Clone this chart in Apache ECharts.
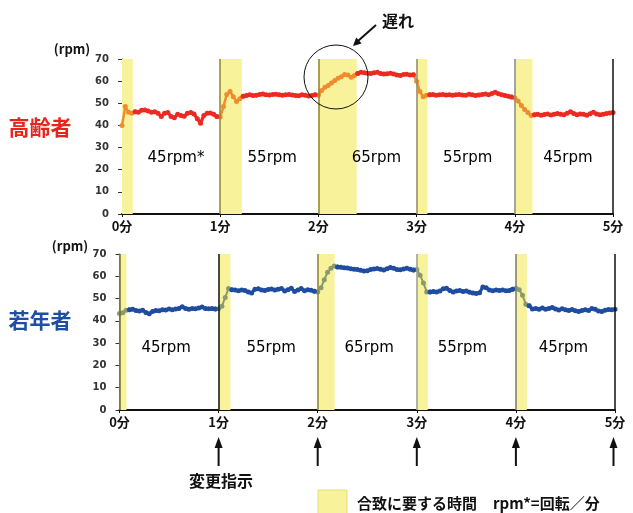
<!DOCTYPE html>
<html>
<head>
<meta charset="utf-8">
<script src="https://cdn.jsdelivr.net/npm/echarts@6/dist/echarts.min.js"></script>
<style>
  html, body { margin: 0; padding: 0; background: #ffffff; }
  #chart { width: 633px; height: 513px; }
</style>
</head>
<body>
<div id="chart"></div>
<script>
// Pedalling cadence (rpm) over a 5-minute trial, sampled every 2 seconds.
const minuteTicks = [0, 1, 2, 3, 4, 5];
const sampleStepMin = 1 / 30;

// Elderly subjects (高齢者)
const elderlyRpm = [
  40, 48.5, 46, 45.5,
  46.2, 46, 46.8, 47, 46.5, 46, 46.2, 45.5, 44, 45.5, 45.8, 44, 43.5, 45, 44.5, 44.2, 45.5, 45.8, 45.2, 43, 41, 44.5, 45.5, 45.6, 45, 44,
  43.8, 48.5, 54, 55.3, 53, 50.8, 52,
  53.2, 53.5, 53.8, 53.5, 53.6, 54, 54.2, 53.8, 53.7, 54, 54.1, 53.9, 53.6, 53.8, 54, 53.7, 53.5, 53.4, 53.9, 53.6, 53.3, 53.5, 53.8,
  53.6, 55.8, 57.2, 58, 59.2, 60.3, 61.3, 62, 63, 62.8, 61.8, 62.5,
  63.5, 64, 63.8, 63.6, 63.4, 63.8, 64, 63.5, 63.2, 63.3, 63.6, 63.2, 62.8, 62.6, 63, 63.1, 62.8, 62.9,
  60, 55.3, 53, 53.6,
  53.8, 54, 53.6, 53.8, 54, 53.7, 53.9, 53.6, 53.8, 54, 53.7, 53.6, 54.1, 53.8, 53.5, 53.7, 54, 54.2, 53.8, 54.4, 55, 54.3, 53.9, 53.5, 53.2, 52.8,
  52.4, 51, 49, 47.2, 45.8, 44.5,
  44.8, 45, 44.6, 44.9, 45.2, 44.7, 45, 45.4, 45, 44.8, 45.5, 46.2, 45.4, 44.8, 45.2, 45, 44.6, 45.3, 46, 45.2, 44.8, 45, 45.4, 45.6, 45.8
];

// Young subjects (若年者)
const youngRpm = [
  43.3, 43.6, 44.8,
  45, 45.2, 44.6, 44.4, 44.8, 43.8, 43.2, 44.2, 44.6, 44.5, 45, 44.9, 45.3, 45, 45.3, 45.6, 46.3, 45.6, 45.2, 45.5, 45.4, 45.8, 46.2, 45.6, 45.4, 45.5, 45.3,
  45.4, 46.5, 50.5, 54.5,
  54, 53.8, 53.5, 53.9, 53.6, 53, 52.5, 54.2, 54.4, 53.9, 53.6, 54.1, 54.3, 53.8, 54.2, 54.5, 53.4, 54, 54.6, 53.2, 53.8, 54.5, 53.5, 54, 53.7, 53.3,
  53, 54.8, 58.5, 61.8, 63.6, 64.6,
  64.2, 64, 63.8, 63.7, 63.4, 63.2, 63, 62.7, 62.4, 62.5, 63, 63.3, 63.5, 63.2, 62.8, 63.4, 63.9, 63.6, 63, 62.9, 63.3, 63.6, 63.2, 62.8,
  63, 60.5, 57, 53,
  53, 53.2, 53, 53.4, 54.4, 54.6, 53.6, 53, 53.4, 53.6, 53.2, 53.4, 52.8, 52.5, 52.3, 52.6, 55.2, 54.8, 53.8, 53.5, 53.9, 53.6, 53.8, 53.5, 53.6, 54.2,
  54.6, 54, 51.5, 47.5,
  46.8, 45.3, 45.6, 45.2, 45.8, 45.2, 45.6, 46, 45.3, 44.9, 45.4, 45, 44.6, 45.1, 44.5, 44.2, 44.6, 45, 44.7, 45.5, 45.2, 44.4, 44.2, 44.8, 45.1, 45, 45.2
];

// Time (min) needed to settle on each new target cadence
const elderlyBands = [[0, 0.11], [1, 1.22], [2, 2.39], [3, 3.11], [4, 4.18]];
const youngBands   = [[0, 0.07], [1, 1.12], [2, 2.17], [3, 3.11], [4, 4.11]];

// Target cadence of each minute
const elderlyTargets = ['45rpm*', '55rpm', '65rpm', '55rpm', '45rpm'];
const youngTargets   = ['45rpm', '55rpm', '65rpm', '55rpm', '45rpm'];

// ---- layout ----
const panels = [
  { left: 122, right: 20, top: 59, height: 155,
    bands: elderlyBands, values: elderlyRpm, targets: elderlyTargets,
    lineColor: '#ec2a21', transColor: '#f08c2e',
    labelAt: [[0.55, 25.3], [1.53, 25.3], [2.59, 25.3], [3.52, 25.3], [4.54, 25.3]],
    edges: [[1, '#8a8332'], [2, '#8a8332'], [3, '#8e8b6c'], [4, '#8a8a8a'], [5, '#111111']] },
  { left: 119.5, right: 18, top: 254, height: 156,
    bands: youngBands, values: youngRpm, targets: youngTargets,
    lineColor: '#1e4ca0', transColor: '#8a9a70',
    labelAt: [[0.47, 27.8], [1.53, 27.8], [2.52, 27.8], [3.46, 27.8], [4.48, 27.8]],
    edges: [[0, '#6f6a2c'], [1, '#111111'], [2, '#8a8332'], [3, '#9a9a9a'], [4, '#777777'], [5, '#111111']] }
];

const CJK = '"Noto Sans CJK JP", sans-serif';

function splitSeries(values, bands) {
  const pts = values.map((v, i) => [i * sampleStepMin, v]);
  const inBand = t => bands.some(([a, b]) => t >= a - 1e-9 && t <= b + 1e-9);
  const steady = pts.map(p => inBand(p[0]) ? [p[0], '-'] : p);
  const trans = pts.map((p, i) => {
    const near = inBand(p[0]) ||
      (i > 0 && inBand(pts[i - 1][0])) ||
      (i < pts.length - 1 && inBand(pts[i + 1][0]));
    return near ? p : [p[0], '-'];
  });
  return { steady, trans };
}

const grid = [], xAxis = [], yAxis = [], series = [];
panels.forEach((p, k) => {
  grid.push({ left: p.left, right: p.right, top: p.top, height: p.height });
  xAxis.push({
    type: 'value', gridIndex: k, min: 0, max: 5, interval: 1,
    axisLine: { show: true, lineStyle: { color: '#111', width: 2 } },
    axisTick: { show: true, length: 3, lineStyle: { color: '#111' } },
    axisLabel: { formatter: '{value}分', fontFamily: CJK, fontWeight: 'bold',
                 fontSize: 13, color: '#111', margin: 6 },
    splitLine: { show: false }
  });
  yAxis.push({
    type: 'value', gridIndex: k, min: 0, max: 70, interval: 10,
    axisLine: { show: true, lineStyle: { color: '#444', width: 1 } },
    axisTick: { show: true, length: 4, lineStyle: { color: '#333' } },
    axisLabel: { fontFamily: 'DejaVu Sans', fontWeight: 'bold', fontSize: 10,
                 color: '#333', margin: 13 },
    splitLine: { show: false }
  });

  // settling-time bands and the minute marker lines
  series.push({
    type: 'line', xAxisIndex: k, yAxisIndex: k, data: [], z: 1, silent: true,
    markArea: {
      silent: true,
      itemStyle: { color: '#f8f39b' },
      data: p.bands.map(b => [{ xAxis: b[0] }, { xAxis: b[1] }])
    },
    markLine: {
      silent: true, symbol: ['none', 'none'], label: { show: false },
      data: p.edges.map(([x, c]) => ({ xAxis: x, lineStyle: { color: c, width: 1.5, type: 'solid' } }))
    }
  });

  const parts = splitSeries(p.values, p.bands);
  series.push({
    type: 'line', xAxisIndex: k, yAxisIndex: k, data: parts.trans, z: 2,
    symbol: 'circle', symbolSize: 5, showSymbol: true,
    lineStyle: { color: p.transColor, width: k === 0 ? 2.5 : 2 },
    itemStyle: { color: p.transColor }
  });
  series.push({
    type: 'line', xAxisIndex: k, yAxisIndex: k, data: parts.steady, z: 3,
    symbol: 'circle', symbolSize: 5, showSymbol: true,
    lineStyle: { color: p.lineColor, width: 3.2 },
    itemStyle: { color: p.lineColor }
  });

  // target cadence captions
  series.push({
    type: 'scatter', xAxisIndex: k, yAxisIndex: k, z: 4, silent: true,
    symbolSize: 1, itemStyle: { color: 'rgba(0,0,0,0)', opacity: 1 },
    data: p.labelAt,
    label: {
      show: true, position: 'inside',
      formatter: prm => p.targets[prm.dataIndex],
      fontFamily: 'DejaVu Sans', fontSize: 15, color: '#000'
    }
  });
});

// up arrows marking each instruction to change cadence
const lower = panels[1];
const plotW = 633 - lower.left - lower.right;
const arrowEls = [];
[1, 2, 3, 4, 5].forEach(m => {
  const x = lower.left + (m / 5) * plotW - (m === 5 ? 1.5 : 0);
  arrowEls.push({ type: 'line', shape: { x1: x, y1: 466, x2: x, y2: 445 },
                  style: { stroke: '#111', lineWidth: 2 } });
  arrowEls.push({ type: 'polygon', shape: { points: [[x, 437], [x - 4, 448], [x + 4, 448]] },
                  style: { fill: '#111' } });
});

const graphic = [
  { type: 'text', x: 72, y: 49, style: { text: '(rpm)', font: 'bold 13px ' + CJK, fill: '#111', align: 'center', verticalAlign: 'middle' } },
  { type: 'text', x: 70, y: 246, style: { text: '(rpm)', font: 'bold 13px ' + CJK, fill: '#111', align: 'center', verticalAlign: 'middle' } },
  { type: 'text', x: 40, y: 127, style: { text: '高齢者', font: 'bold 21px ' + CJK, fill: '#e8241c', align: 'center', verticalAlign: 'middle' } },
  { type: 'text', x: 40, y: 320, style: { text: '若年者', font: 'bold 21px ' + CJK, fill: '#1f4fa0', align: 'center', verticalAlign: 'middle' } },
  { type: 'circle', shape: { cx: 336, cy: 77, r: 32 }, style: { fill: 'none', stroke: '#111', lineWidth: 1 }, z: 10 },
  { type: 'text', x: 398, y: 21, style: { text: '遅れ', font: 'bold 16px ' + CJK, fill: '#111', align: 'center', verticalAlign: 'middle' } },
  { type: 'line', shape: { x1: 376, y1: 25, x2: 358, y2: 41 }, style: { stroke: '#111', lineWidth: 2 } },
  { type: 'polygon', shape: { points: [[353, 46], [361.6, 43.6], [356.2, 37.6]] }, style: { fill: '#111' } },
  { type: 'text', x: 221, y: 481, style: { text: '変更指示', font: 'bold 16px ' + CJK, fill: '#111', align: 'center', verticalAlign: 'middle' } },
  { type: 'rect', shape: { x: 318, y: 490, width: 29, height: 24 }, style: { fill: '#f8f39b', stroke: '#e6dd78', lineWidth: 1 } },
  { type: 'text', x: 357, y: 503, style: { text: '合致に要する時間', font: 'bold 15px ' + CJK, fill: '#111', align: 'left', verticalAlign: 'middle' } },
  { type: 'text', x: 493, y: 503, style: { text: 'rpm*=回転／分', font: 'bold 15px ' + CJK, fill: '#111', align: 'left', verticalAlign: 'middle' } }
].concat(arrowEls);

const chart = echarts.init(document.getElementById('chart'), null, { renderer: 'canvas' });
chart.setOption({
  animation: false,
  backgroundColor: '#ffffff',
  grid, xAxis, yAxis, series, graphic
});
</script>
</body>
</html>
